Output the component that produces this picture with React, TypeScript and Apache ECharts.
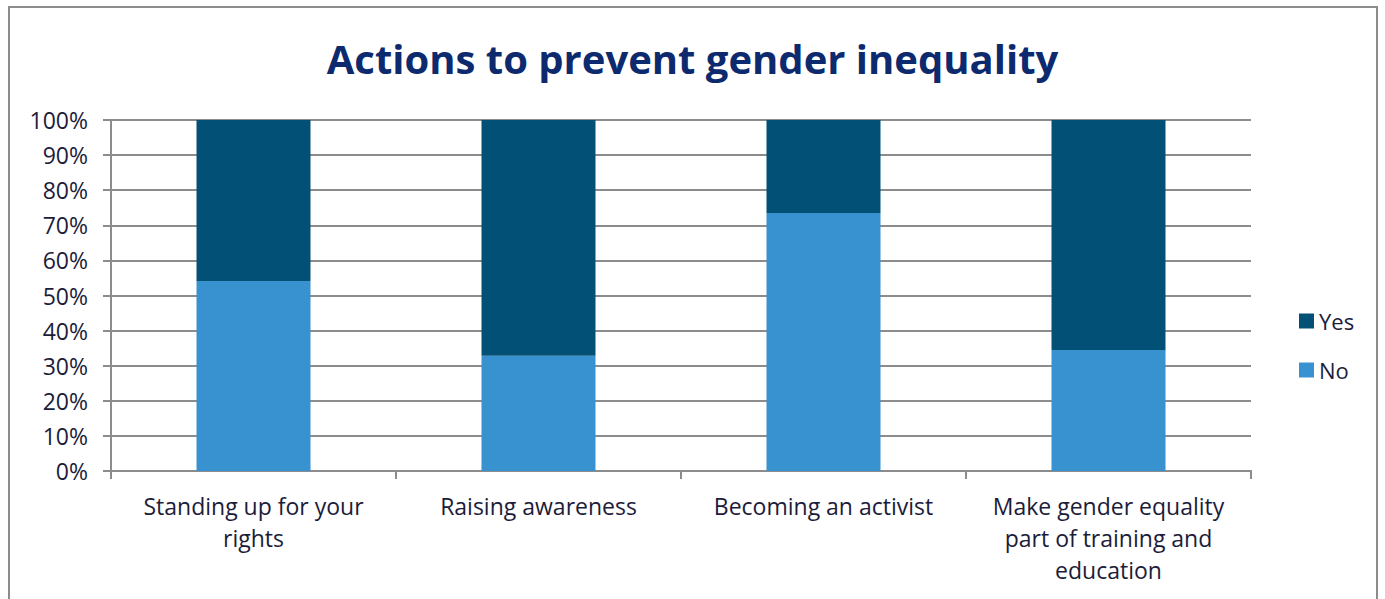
import React, { useEffect, useRef } from "react";
import * as echarts from "echarts";

const categories = [
  "Standing up for your\nrights",
  "Raising awareness",
  "Becoming an activist",
  "Make gender equality\npart of training and\neducation",
];
const noValues = [54.1, 32.8, 73.5, 34.5];
const yesValues = [45.9, 67.2, 26.5, 65.5];
const yTicks = [0, 10, 20, 30, 40, 50, 60, 70, 80, 90, 100];

const FONT = "'Open Sans', Lato, sans-serif";
const TEXT = "#1c1c3a";
const GRAY = "#8c8c8c";

export default function App() {
  const ref = useRef<HTMLDivElement>(null);
  useEffect(() => {
    if (!ref.current) return;
    const chart = echarts.init(ref.current, undefined, { renderer: "svg" });
    chart.setOption({
      animation: false,
      backgroundColor: "#ffffff",
      textStyle: { fontFamily: FONT },
      title: {
        text: "Actions to prevent gender inequality",
        left: "center",
        top: 33,
        textStyle: { fontFamily: FONT, fontWeight: "bold", fontSize: 40, color: "#0d2a6e" },
      },
      graphic: [
        {
          type: "rect",
          shape: { x: 9, y: 7, width: 1368, height: 620 },
          style: { fill: "none", stroke: GRAY, lineWidth: 2 },
          silent: true,
        },
      ],
      legend: {
        orient: "vertical",
        left: 1294,
        top: 305,
        itemWidth: 15,
        itemHeight: 15,
        itemGap: 27,
        icon: "rect",
        data: ["Yes", "No"],
        textStyle: { fontFamily: FONT, fontSize: 22, color: TEXT },
      },
      grid: { left: 111, right: 134, top: 120, bottom: 128, containLabel: false },
      xAxis: {
        type: "category",
        data: categories,
        boundaryGap: true,
        axisLine: { lineStyle: { color: GRAY, width: 2 } },
        axisTick: { show: true, length: 8, lineStyle: { color: GRAY, width: 2 }, alignWithLabel: false },
        axisLabel: {
          interval: 0,
          margin: 19,
          fontFamily: FONT,
          fontSize: 23,
          lineHeight: 32,
          color: TEXT,
          align: "center",
        },
      },
      yAxis: {
        type: "value",
        min: 0,
        max: 100,
        interval: 10,
        axisLine: { show: true, lineStyle: { color: GRAY, width: 2 } },
        axisTick: { show: true, length: 8, lineStyle: { color: GRAY, width: 2 } },
        splitLine: { show: true, lineStyle: { color: GRAY, width: 2 } },
        axisLabel: {
          margin: 23,
          fontFamily: FONT,
          fontSize: 23,
          color: TEXT,
          formatter: (v: number) => (yTicks.includes(v) ? v + "%" : ""),
        },
      },
      series: [
        {
          name: "No",
          type: "bar",
          stack: "total",
          data: noValues,
          barWidth: "40%",
          itemStyle: { color: "#3892d0" },
        },
        {
          name: "Yes",
          type: "bar",
          stack: "total",
          data: yesValues,
          barWidth: "40%",
          itemStyle: { color: "#035077" },
        },
      ],
    });
    return () => chart.dispose();
  }, []);
  return (
    <div
      ref={ref}
      style={{ position: "absolute", left: 0, top: 0, width: 1385, height: 599 }}
    />
  );
}
